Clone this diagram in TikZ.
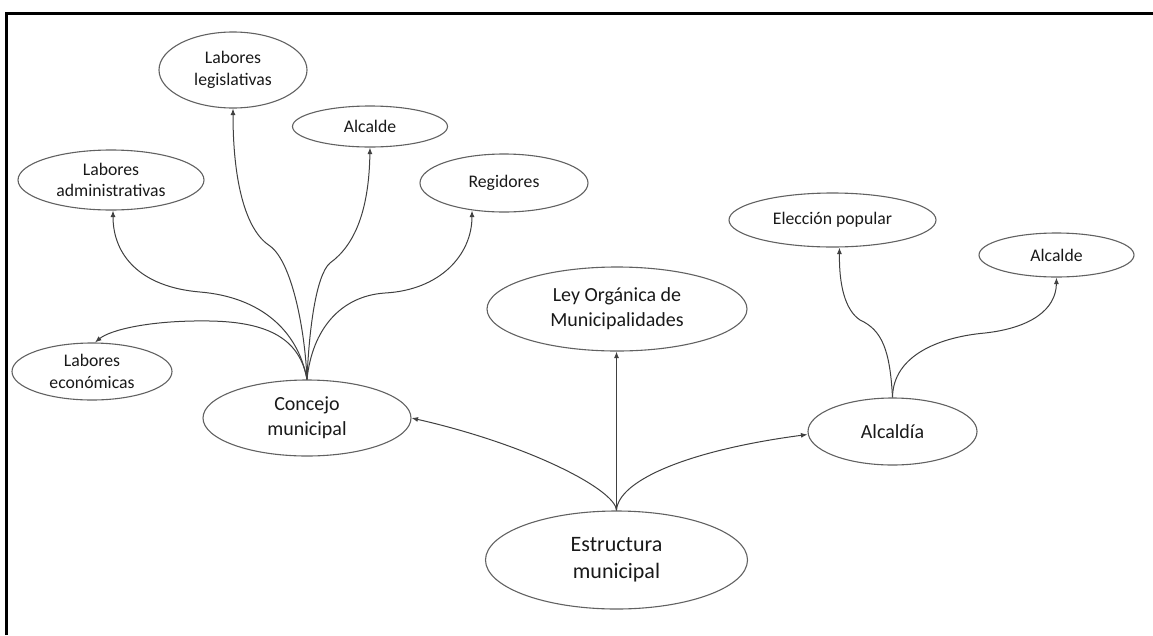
\documentclass[tikz,border=0pt]{standalone}
\usepackage{fontspec}
\setmainfont{Carlito}
\usetikzlibrary{shapes.geometric,arrows.meta}
\begin{document}
\begin{tikzpicture}[x=1pt,y=-1pt,
  bubble/.style={ellipse,draw=black!62,line width=1.1pt,inner sep=0pt,
                 align=center,text=black!90},
  small/.style={font=\fontsize{17.7}{21.5}\selectfont},
  medium/.style={font=\fontsize{20}{25}\selectfont},
  large/.style={font=\fontsize{22}{27}\selectfont},
  link/.style={draw=black!75,line width=1pt,-{Latex[length=6.5pt,width=5pt]}}
]
\useasboundingbox (0,0) rectangle (1153,635);
% page frame (left and top edges)
\draw[line width=2.7pt] (6.7,635) -- (6.7,13.4) -- (1153,13.4);

% nodes
\node[bubble,small,minimum width=148pt,minimum height=76pt] (leg) at (233,70) {Labores\\legislativas};
\node[bubble,small,minimum width=155pt,minimum height=41pt] (alcA) at (370,126.5) {Alcalde};
\node[bubble,small,minimum width=186pt,minimum height=60pt] (adm) at (111,180) {Labores\\administrativas};
\node[bubble,small,minimum width=168pt,minimum height=58pt] (reg) at (504,183) {Regidores};
\node[bubble,small,minimum width=160pt,minimum height=57pt] (eco) at (92,371.5) {Labores\\económicas};
\node[bubble,medium,minimum width=208pt,minimum height=76pt] (con) at (307,418) {Concejo\\municipal};
\node[bubble,medium,minimum width=260pt,minimum height=84pt] (ley) at (617,309) {Ley Orgánica de\\Municipalidades};
\node[bubble,large,minimum width=262pt,minimum height=98pt] (est) at (616.5,560) {Estructura\\municipal};
\node[bubble,medium,minimum width=169pt,minimum height=67pt] (alc) at (892.5,431.5) {Alcaldía};
\node[bubble,small,minimum width=207pt,minimum height=54pt] (ele) at (832.5,220) {Elección popular};
\node[bubble,small,minimum width=155pt,minimum height=44pt] (alcB) at (1056.5,255) {Alcalde};

% Estructura municipal branches
\draw[link] (est.north) -- (est.north |- ley.south);
\draw[link] (est.north) .. controls (616,490) and (530,445) .. (con.east);
\draw[link] (est.north) .. controls (618,480) and (690,450) .. ([yshift=-3pt]alc.west);

% Concejo municipal branches
\draw[link] (con.north) .. controls (300,340) and (270,322) .. (210,321)
                         .. controls (150,320) and (110,330) .. ([xshift=3pt]eco.north);
\draw[link] (con.north) .. controls (298,330) and (260,297) .. (200,292)
                         .. controls (140,287) and (113,255) .. ([xshift=2pt]adm.south);
\draw[link] (con.north) .. controls (305,330) and (292,262) .. (270,246)
                         .. controls (245,230) and (233,180) .. (leg.south);
\draw[link] (con.north) .. controls (309,330) and (316,275) .. (330,263)
                         .. controls (355,245) and (369,210) .. (alcA.south);
\draw[link] (con.north) .. controls (312,330) and (340,296) .. (385,293)
                         .. controls (440,290) and (472,255) .. ([xshift=-32pt,yshift=2pt]reg.south);

% Alcaldia branches
\draw[link] (alc.north) .. controls (890,350) and (882,330) .. (860,320)
                         .. controls (845,310) and (839,285) .. ([xshift=7pt]ele.south);
\draw[link] (alc.north) .. controls (893,355) and (940,337) .. (985,333)
                         .. controls (1030,328) and (1056,310) .. (alcB.south);
\end{tikzpicture}
\end{document}
